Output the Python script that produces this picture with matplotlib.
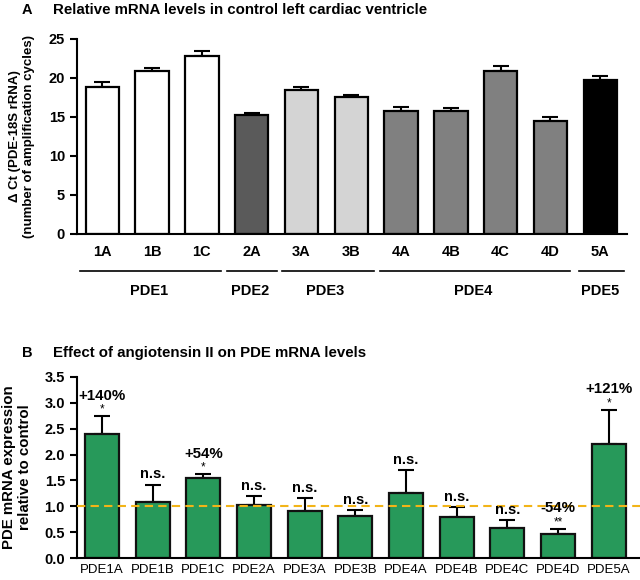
import matplotlib
matplotlib.use('Agg')
import matplotlib.pyplot as plt
import matplotlib.transforms as mtransforms

plt.rcParams['font.family'] = ['Liberation Sans', 'DejaVu Sans']

# panel A data
isoforms = ['1A', '1B', '1C', '2A', '3A', '3B', '4A', '4B', '4C', '4D', '5A']
delta_ct = [18.8, 20.9, 22.8, 15.2, 18.5, 17.6, 15.8, 15.8, 20.9, 14.5, 19.7]
delta_ct_err = [0.7, 0.4, 0.6, 0.3, 0.3, 0.2, 0.5, 0.3, 0.6, 0.5, 0.5]
bar_colors = ['white', 'white', 'white', '#5a5a5a', '#d4d4d4', '#d4d4d4',
              '#808080', '#808080', '#808080', '#808080', 'black']
families = ['PDE1', 'PDE2', 'PDE3', 'PDE4', 'PDE5']
family_spans = [(-0.45, 2.38), (2.50, 3.50), (3.60, 5.45), (5.57, 9.40), (9.57, 10.47)]
family_centers = [0.95, 2.97, 4.47, 7.45, 10.0]

# panel B data
genes = ['PDE1A', 'PDE1B', 'PDE1C', 'PDE2A', 'PDE3A', 'PDE3B',
         'PDE4A', 'PDE4B', 'PDE4C', 'PDE4D', 'PDE5A']
rel_expr = [2.40, 1.09, 1.55, 1.03, 0.90, 0.82, 1.26, 0.80, 0.58, 0.46, 2.21]
rel_err = [0.34, 0.33, 0.07, 0.17, 0.26, 0.11, 0.44, 0.19, 0.15, 0.10, 0.65]
stars = ['*', 'n.s.', '*', 'n.s.', 'n.s.', 'n.s.', 'n.s.', 'n.s.', 'n.s.', '**', '*']
changes = ['+140%', '', '+54%', '', '', '', '', '', '', '-54%', '+121%']

fig = plt.figure(figsize=(6.4, 5.8), dpi=100)
axA = fig.add_axes([0.120, 0.5966, 0.860, 0.3362])
axB = fig.add_axes([0.120, 0.0379, 0.880, 0.3121])

x = range(len(isoforms))

def style(ax):
    for s in ['top', 'right']:
        ax.spines[s].set_visible(False)
    for s in ['left', 'bottom']:
        ax.spines[s].set_linewidth(1.5)
    ax.tick_params(axis='y', width=1.5, length=5, labelsize=10.5)
    ax.tick_params(axis='x', length=0)
    for t in ax.get_yticklabels():
        t.set_fontweight('bold')

# ---- A ----
axA.bar(x, delta_ct, width=0.67, color=bar_colors, edgecolor='black', linewidth=1.6, zorder=2)
axA.errorbar(x, delta_ct, yerr=[[0] * len(x), delta_ct_err], fmt='none', ecolor='black',
             elinewidth=1.5, capsize=6, capthick=1.5, zorder=1)
axA.set_xlim(-0.51, 10.54)
axA.set_ylim(0, 25)
axA.set_yticks([0, 5, 10, 15, 20, 25])
axA.set_xticks(list(x))
axA.set_xticklabels(isoforms, fontsize=10.5, fontweight='bold')
axA.tick_params(axis='x', pad=8)
style(axA)
axA.set_ylabel('\u0394 Ct (PDE-18S rRNA)\n(number of amplification cycles)',
               fontsize=9.5, fontweight='bold', labelpad=10)

tr = mtransforms.blended_transform_factory(axA.transData, axA.transAxes)
for name, (x0, x1), xc in zip(families, family_spans, family_centers):
    axA.plot([x0, x1], [-0.19, -0.19], color='black', linewidth=1.2, transform=tr, clip_on=False)
    axA.text(xc, -0.29, name, transform=tr, ha='center', va='center',
             fontsize=10.5, fontweight='bold')

fig.text(0.042, 0.982, 'A', fontsize=10.5, fontweight='bold', va='center', ha='center')
fig.text(0.083, 0.982, 'Relative mRNA levels in control left cardiac ventricle',
         fontsize=10.8, fontweight='bold', va='center', ha='left')

# ---- B ----
axB.bar(x, rel_expr, width=0.67, color='#27995a', edgecolor='#111111', linewidth=1.6, zorder=2)
axB.errorbar(x, rel_expr, yerr=[[0] * len(x), rel_err], fmt='none', ecolor='black',
             elinewidth=1.5, capsize=6, capthick=1.5, zorder=1)
axB.axhline(1.0, color='#f2b418', linestyle='--', linewidth=1.5, dashes=(4, 2.5), zorder=3)
axB.set_xlim(-0.50, 10.62)
axB.set_ylim(0, 3.5)
axB.set_yticks([0, 0.5, 1.0, 1.5, 2.0, 2.5, 3.0, 3.5])
axB.set_yticklabels(['%.1f' % v for v in [0, 0.5, 1.0, 1.5, 2.0, 2.5, 3.0, 3.5]])
axB.set_xticks(list(x))
axB.set_xticklabels(genes, fontsize=9.5)
axB.tick_params(axis='x', pad=4)
style(axB)
axB.set_ylabel('PDE mRNA expression\nrelative to control', fontsize=10.8,
               fontweight='bold', labelpad=9)

for i, (v, e, s, c) in enumerate(zip(rel_expr, rel_err, stars, changes)):
    top = v + e
    if s == 'n.s.':
        axB.text(i, top + 0.06, s, ha='center', va='bottom', fontsize=10.5, fontweight='bold')
    else:
        axB.text(i, top + 0.13, s, ha='center', va='center', fontsize=8.5)
        axB.text(i, top + 0.40, c, ha='center', va='center', fontsize=10.8, fontweight='bold')

fig.text(0.042, 0.392, 'B', fontsize=10.5, fontweight='bold', va='center', ha='center')
fig.text(0.083, 0.392, 'Effect of angiotensin II on PDE mRNA levels',
         fontsize=10.8, fontweight='bold', va='center', ha='left')

fig.savefig('out.png', dpi=100)
